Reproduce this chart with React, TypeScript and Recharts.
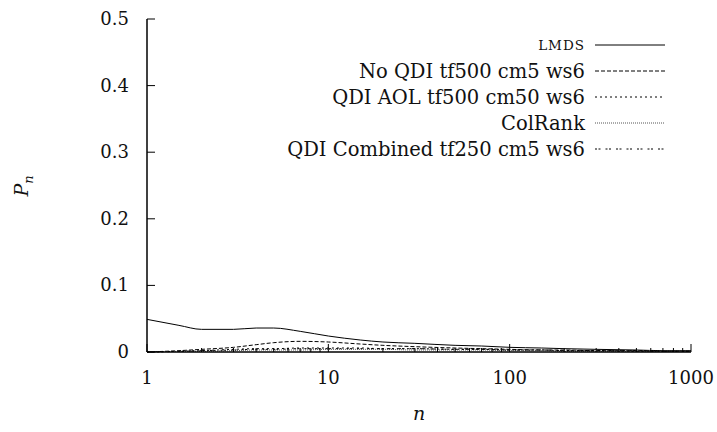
import React from "react";
import { LineChart, Line, XAxis, YAxis, Legend } from "recharts";

// n values (log axis) and P_n for each run
const nValues = [1, 1.5, 2, 3, 4, 5, 7, 10, 15, 20, 30, 50, 70, 100, 150, 200, 300, 500, 700, 1000];
const lmds = [0.049, 0.04, 0.034, 0.034, 0.036, 0.036, 0.031, 0.024, 0.018, 0.015, 0.013, 0.01, 0.009, 0.007, 0.006, 0.005, 0.004, 0.003, 0.002, 0.002];
const noQdi = [0, 0.002, 0.004, 0.007, 0.011, 0.014, 0.016, 0.015, 0.012, 0.01, 0.008, 0.006, 0.005, 0.004, 0.003, 0.003, 0.002, 0.002, 0.001, 0.001];
const qdiAol = [0, 0.001, 0.002, 0.004, 0.005, 0.005, 0.006, 0.006, 0.006, 0.005, 0.005, 0.004, 0.004, 0.003, 0.003, 0.002, 0.002, 0.001, 0.001, 0.001];
const colRank = [0, 0.001, 0.001, 0.002, 0.003, 0.003, 0.003, 0.004, 0.004, 0.004, 0.003, 0.003, 0.003, 0.002, 0.002, 0.001, 0.001, 0.001, 0.001, 0.001];
const combined = [0, 0.001, 0.002, 0.003, 0.004, 0.004, 0.005, 0.005, 0.005, 0.005, 0.005, 0.004, 0.004, 0.003, 0.003, 0.002, 0.002, 0.002, 0.001, 0.001];

const xMajor = [1, 10, 100, 1000];
const xTicks = [1, 2, 3, 4, 5, 6, 7, 8, 9, 10, 20, 30, 40, 50, 60, 70, 80, 90, 100, 200, 300, 400, 500, 600, 700, 800, 900, 1000];
const yTicks = [0, 0.1, 0.2, 0.3, 0.4, 0.5];

const series = [
  { key: "lmds", name: "LMDS", dash: undefined as string | undefined, color: "#000", small: true },
  { key: "noQdi", name: "No QDI tf500 cm5 ws6", dash: "4 2", color: "#000", small: false },
  { key: "qdiAol", name: "QDI AOL tf500 cm50 ws6", dash: "2 3", color: "#000", small: false },
  { key: "colRank", name: "ColRank", dash: "1 1", color: "#555", small: false },
  { key: "combined", name: "QDI Combined tf250 cm5 ws6", dash: "2 1.5 2 5", color: "#000", small: false },
];

const data = nValues.map((n, i) => ({
  n,
  lmds: lmds[i],
  noQdi: noQdi[i],
  qdiAol: qdiAol[i],
  colRank: colRank[i],
  combined: combined[i],
}));

const FONT = "'DejaVu Serif', serif";

function XTick(props: any) {
  const { x, y, payload } = props;
  const major = xMajor.includes(payload.value);
  return (
    <g>
      <line x1={x} x2={x} y1={y} y2={y - (major ? 8 : 4)} stroke="#000" strokeWidth={1} />
      {major && (
        <text x={x} y={y + 32} textAnchor="middle" fontSize={18} fontFamily={FONT} fill="#111">
          {payload.value}
        </text>
      )}
    </g>
  );
}

function YTick(props: any) {
  const { x, y, payload } = props;
  return (
    <g>
      <line x1={x} x2={x + 8} y1={y} y2={y} stroke="#000" strokeWidth={1} />
      <text x={x - 18} y={y + 6} textAnchor="end" fontSize={18} fontFamily={FONT} fill="#111">
        {payload.value}
      </text>
    </g>
  );
}

function LegendBox() {
  return (
    <div style={{ fontFamily: FONT, color: "#111" }}>
      {series.map((s) => (
        <div key={s.key} style={{ display: "flex", justifyContent: "flex-end", alignItems: "center", height: 26 }}>
          <span style={{ fontSize: s.small ? 13.5 : 19.5, letterSpacing: s.small ? 1 : 0, whiteSpace: "nowrap" }}>{s.name}</span>
          <svg width={80} height={10} style={{ marginLeft: 10 }}>
            <line x1={0} x2={70} y1={5} y2={5} stroke={s.color} strokeWidth={1} strokeDasharray={s.dash} />
          </svg>
        </div>
      ))}
    </div>
  );
}

export default function App() {
  return (
    <div style={{ position: "absolute", left: 0, top: 0, background: "#fff" }}>
      <LineChart width={717} height={432} data={data} margin={{ top: 19, right: 26, left: 0, bottom: 0 }}>
        <XAxis
          dataKey="n"
          type="number"
          scale="log"
          domain={[1, 1000]}
          ticks={xTicks}
          interval={0}
          height={80}
          tickSize={0}
          tickMargin={0}
          tickLine={false}
          axisLine={{ stroke: "#000", strokeWidth: 1.5 }}
          tick={<XTick />}
          allowDataOverflow
          label={{
            content: () => (
              <text x={419} y={420} textAnchor="middle" fontSize={19} fontStyle="italic" fontFamily={FONT} fill="#111">
                n
              </text>
            ),
          }}
        />
        <YAxis
          type="number"
          domain={[0, 0.5]}
          ticks={yTicks}
          interval={0}
          width={147}
          tickSize={0}
          tickMargin={0}
          tickLine={false}
          axisLine={{ stroke: "#000", strokeWidth: 1.5 }}
          tick={<YTick />}
          label={{
            content: () => (
              <text transform="translate(28,186) rotate(-90)" textAnchor="middle" fontSize={19} fontStyle="italic" fontFamily={FONT} fill="#111">
                P
                <tspan fontSize={13} dy={5}>n</tspan>
              </text>
            ),
          }}
        />
        <Legend
          layout="horizontal"
          verticalAlign="middle"
          content={<LegendBox />}
          wrapperStyle={{ left: 185, top: 32, width: 490 }}
        />
        {series.map((s) => (
          <Line
            key={s.key}
            type="monotone"
            dataKey={s.key}
            name={s.name}
            stroke={s.color}
            strokeWidth={1}
            strokeDasharray={s.dash}
            dot={false}
            isAnimationActive={false}
          />
        ))}
      </LineChart>
    </div>
  );
}
